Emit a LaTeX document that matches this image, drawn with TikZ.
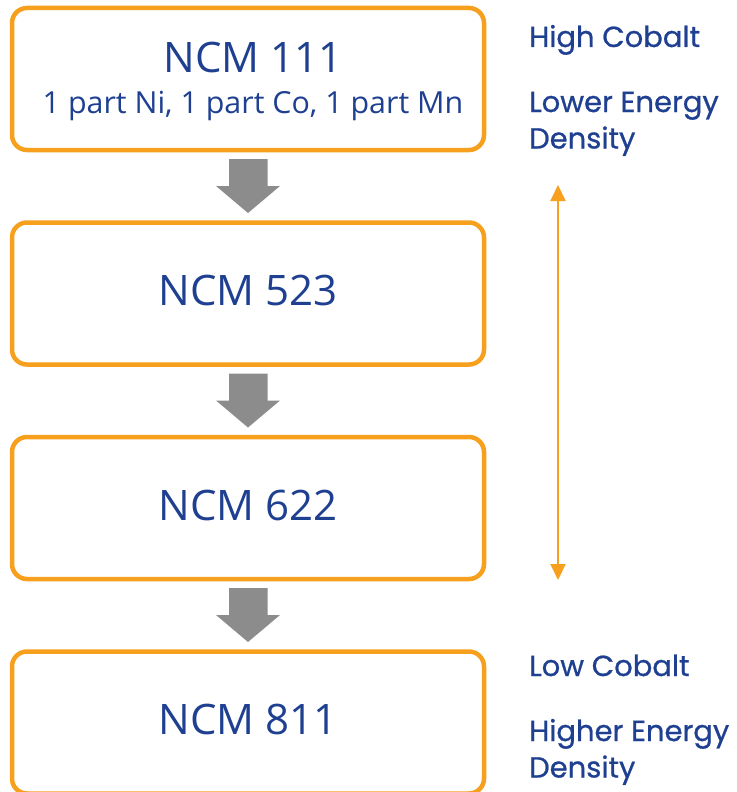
\documentclass[tikz,border=0pt]{standalone}
\usepackage{fontspec}
\usetikzlibrary{arrows.meta}
\setmainfont{Open Sans}
\newfontfamily\sidefont[FakeBold=0.8]{Poppins}
\definecolor{boxorange}{RGB}{247,160,30}
\definecolor{textblue}{RGB}{31,64,145}
\definecolor{stepgray}{RGB}{140,140,140}
\begin{document}
\begin{tikzpicture}[x=1pt,y=-1pt,
  stagebox/.style={draw=boxorange,line width=4.5pt,rounded corners=15pt,fill=white},
  title/.style={text=textblue,anchor=base,inner sep=0pt,font=\fontsize{42}{48}\selectfont},
  subtitle/.style={text=textblue,anchor=base,inner sep=0pt,font=\fontsize{30.4}{34}\selectfont},
  side/.style={text=textblue,anchor=base west,inner sep=0pt,align=left,font=\sidefont\fontsize{29}{36.5}\selectfont},
  blockarrow/.style={fill=stepgray,draw=none}]
\useasboundingbox (0,0) rectangle (736,792);
\clip (0,0) rectangle (736,792);

% stage boxes
\draw[stagebox] (12,8) rectangle (484,150);
\draw[stagebox] (12,222.5) rectangle (484,364.5);
\draw[stagebox] (12,437) rectangle (484,579);
\draw[stagebox] (12,651.5) rectangle (484,793.5);

% box labels
\node[title] (n111) at (253,72) {NCM 111};
\node[subtitle] (sub111) at (253,113) {1 part Ni, 1 part Co, 1 part Mn};
\node[title] (n523) at (248,305) {NCM 523};
\node[title] (n622) at (248,520) {NCM 622};
\node[title] (n811) at (248,734) {NCM 811};

% gray step arrows between the boxes
\foreach \t in {159,373.5,588}{
  \fill[blockarrow] (229,\t) -- (267.5,\t) -- (267.5,\t+27) -- (280,\t+27)
    -- (248,\t+54) -- (216,\t+27) -- (229,\t+27) -- cycle;
}

% vertical double arrow
\coordinate (topend) at (558,185);
\coordinate (botend) at (558,580);
\draw[boxorange,line width=2pt,
  {Triangle[width=15pt,length=16pt]}-{Triangle[width=15pt,length=16pt]}]
  (topend) -- (botend);

% side labels (a multi-line node sits on the baseline of its last line)
\node[side] (hc) at (529,47) {High Cobalt};
\node[side] (led) at (529,148.5) {Lower Energy\\Density};
\node[side] (lc) at (529,676) {Low Cobalt};
\node[side] (hed) at (529,777.5) {Higher Energy\\Density};
\end{tikzpicture}
\end{document}
